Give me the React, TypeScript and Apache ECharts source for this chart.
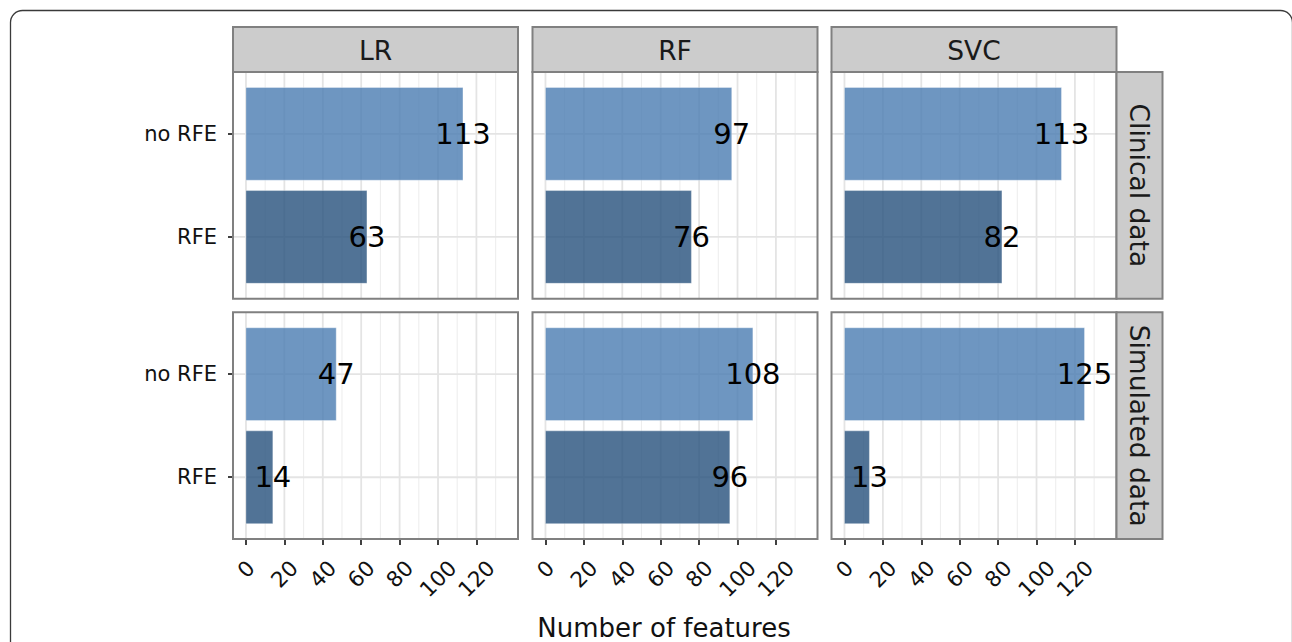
import React, { useEffect, useRef } from 'react';
import * as echarts from 'echarts';

const models = ['LR', 'RF', 'SVC'];
const datasets = ['Clinical data', 'Simulated data'];
const methodLabels = ['RFE', 'no RFE']; // index = y position (0 bottom, 1 top)
const clinicalNoRFE = [113, 97, 113];
const clinicalRFE = [63, 76, 82];
const simulatedNoRFE = [47, 108, 125];
const simulatedRFE = [14, 96, 13];
const xTicks = [0, 20, 40, 60, 80, 100, 120];
const xMinorTicks = [10, 30, 50, 70, 90, 110, 130];
const yTicks = [0, 1];
const xTitle = 'Number of features';

const rowValues = [
  [clinicalNoRFE, clinicalRFE],
  [simulatedNoRFE, simulatedRFE],
];

const X_MIN = -6.75;
const X_MAX = 141.65;
const Y_MIN = -0.6;
const Y_MAX = 1.6;

const colLeft = [233, 532.5, 831.5];
const panelW = 285;
const rowTop = [72, 312.3];
const panelH = 226.8;
const headerTop = 27;
const stripW = 46;
const FONT = 'DejaVu Sans';
const FRAME = '#808080';
const STRIP_FILL = '#cccccc';
const LIGHT = 'rgba(74, 124, 178, 0.8)';
const DARK = 'rgba(38, 80, 124, 0.8)';
const TICK_FS = 21.5;

export default function App() {
  const ref = useRef<HTMLDivElement>(null);
  useEffect(() => {
    if (!ref.current) return;
    const chart = echarts.init(ref.current, null, { renderer: 'svg' });
    const grids: any[] = [];
    const xAxes: any[] = [];
    const yAxes: any[] = [];
    const series: any[] = [];
    const graphic: any[] = [];

    graphic.push({
      type: 'rect',
      z: 100,
      shape: { x: 10.5, y: 10.5, width: 1282, height: 700, r: 12 },
      style: { fill: 'none', stroke: '#3a3a3a', lineWidth: 1.3 },
    });

    const richStyle = (p: number) => ({
      fontFamily: FONT,
      fontSize: TICK_FS,
      color: '#111',
      padding: [p, p, 0, 0],
    });

    for (let r = 0; r < 2; r++) {
      for (let c = 0; c < 3; c++) {
        const g = r * 3 + c;
        grids.push({ left: colLeft[c], top: rowTop[r], width: panelW, height: panelH, show: false });
        const bottom = r === 1;
        xAxes.push({
          gridIndex: g,
          type: 'value',
          position: 'bottom',
          min: X_MIN,
          max: X_MAX,
          axisLine: { show: false, onZero: false },
          splitLine: { show: false },
          axisTick: {
            show: bottom,
            customValues: xTicks,
            length: 6,
            lineStyle: { color: '#111', width: 1.6 },
          },
          axisLabel: {
            show: bottom,
            customValues: xTicks,
            rotate: 45,
            margin: 30,
            align: 'center',
            verticalAlign: 'middle',
            fontFamily: FONT,
            fontSize: TICK_FS,
            color: '#111',
            formatter: (v: number) => `{d${String(v).length}|${v}}`,
            rich: {
              d1: richStyle(0),
              d2: richStyle(6.8),
              d3: richStyle(13.6),
            },
          },
        });
        yAxes.push({
          gridIndex: g,
          type: 'value',
          position: 'left',
          min: Y_MIN,
          max: Y_MAX,
          axisLine: { show: false, onZero: false },
          splitLine: { show: false },
          axisTick: {
            show: c === 0,
            customValues: yTicks,
            length: 5,
            lineStyle: { color: '#111', width: 1.6 },
          },
          axisLabel: {
            show: c === 0,
            customValues: yTicks,
            margin: 16,
            fontFamily: FONT,
            fontSize: 21,
            color: '#111',
            formatter: (v: number) => methodLabels[Math.round(v)] ?? '',
          },
        });

        const gridData: number[][] = [
          ...xMinorTicks.map((v) => [v, 0]),
          ...xTicks.map((v) => [v, 1]),
          ...yTicks.map((v) => [v, 2]),
        ];
        series.push({
          type: 'custom',
          xAxisIndex: g,
          yAxisIndex: g,
          z: 1,
          silent: true,
          data: gridData,
          renderItem: (_p: any, api: any) => {
            const v = api.value(0);
            const k = api.value(1);
            if (k === 2) {
              const a = api.coord([X_MIN, v]);
              const b = api.coord([X_MAX, v]);
              return {
                type: 'line',
                shape: { x1: a[0], y1: a[1], x2: b[0], y2: b[1] },
                style: { stroke: '#e4e4e4', lineWidth: 1.8 },
              };
            }
            const a = api.coord([v, Y_MIN]);
            const b = api.coord([v, Y_MAX]);
            return {
              type: 'line',
              shape: { x1: a[0], y1: a[1], x2: b[0], y2: b[1] },
              style: { stroke: k === 1 ? '#e4e4e4' : '#eeeeee', lineWidth: k === 1 ? 1.8 : 1.1 },
            };
          },
        });

        const [noRfe, rfe] = rowValues[r];
        series.push({
          type: 'custom',
          xAxisIndex: g,
          yAxisIndex: g,
          z: 2,
          data: [
            [noRfe[c], 1],
            [rfe[c], 0],
          ],
          renderItem: (_p: any, api: any) => {
            const v = api.value(0);
            const k = api.value(1);
            const p0 = api.coord([0, k + 0.45]);
            const p1 = api.coord([v, k - 0.45]);
            const mid = api.coord([v, k]);
            return {
              type: 'group',
              children: [
                {
                  type: 'rect',
                  shape: { x: p0[0], y: p0[1], width: p1[0] - p0[0], height: p1[1] - p0[1] },
                  style: { fill: k === 1 ? LIGHT : DARK, stroke: 'rgba(255,255,255,0.35)', lineWidth: 1 },
                },
                {
                  type: 'text',
                  x: mid[0],
                  y: mid[1],
                  style: {
                    text: String(v),
                    fontFamily: FONT,
                    fontSize: 29,
                    fill: '#000',
                    align: 'center',
                    verticalAlign: 'middle',
                  },
                },
              ],
            };
          },
        });

        graphic.push({
          type: 'rect',
          z: 50,
          shape: { x: colLeft[c], y: rowTop[r], width: panelW, height: panelH },
          style: { fill: 'none', stroke: FRAME, lineWidth: 2 },
        });
      }
    }

    // column strips
    for (let c = 0; c < 3; c++) {
      graphic.push({
        type: 'rect',
        z: 50,
        shape: { x: colLeft[c], y: headerTop, width: panelW, height: rowTop[0] - headerTop },
        style: { fill: STRIP_FILL, stroke: FRAME, lineWidth: 2 },
      });
      graphic.push({
        type: 'text',
        z: 51,
        x: colLeft[c] + panelW / 2,
        y: (headerTop + rowTop[0]) / 2 + 1,
        style: {
          text: models[c],
          fontFamily: FONT,
          fontSize: 26.5,
          fill: '#1a1a1a',
          align: 'center',
          verticalAlign: 'middle',
        },
      });
    }
    // row strips
    const stripX = colLeft[2] + panelW;
    for (let r = 0; r < 2; r++) {
      graphic.push({
        type: 'rect',
        z: 50,
        shape: { x: stripX, y: rowTop[r], width: stripW, height: panelH },
        style: { fill: STRIP_FILL, stroke: FRAME, lineWidth: 2 },
      });
      graphic.push({
        type: 'text',
        z: 51,
        x: stripX + stripW / 2,
        y: rowTop[r] + panelH / 2,
        rotation: -Math.PI / 2,
        style: {
          text: datasets[r],
          fontFamily: FONT,
          fontSize: 26.5,
          fill: '#1a1a1a',
          align: 'center',
          verticalAlign: 'middle',
        },
      });
    }
    graphic.push({
      type: 'text',
      z: 51,
      x: 664,
      y: 628,
      style: {
        text: xTitle,
        fontFamily: FONT,
        fontSize: 26,
        fill: '#111',
        align: 'center',
        verticalAlign: 'middle',
      },
    });

    chart.setOption({
      animation: false,
      backgroundColor: '#ffffff',
      grid: grids,
      xAxis: xAxes,
      yAxis: yAxes,
      series,
      graphic,
    });
    return () => chart.dispose();
  }, []);
  return (
    <div
      ref={ref}
      style={{ position: 'fixed', left: 0, top: 0, width: 1292, height: 642 }}
    />
  );
}
